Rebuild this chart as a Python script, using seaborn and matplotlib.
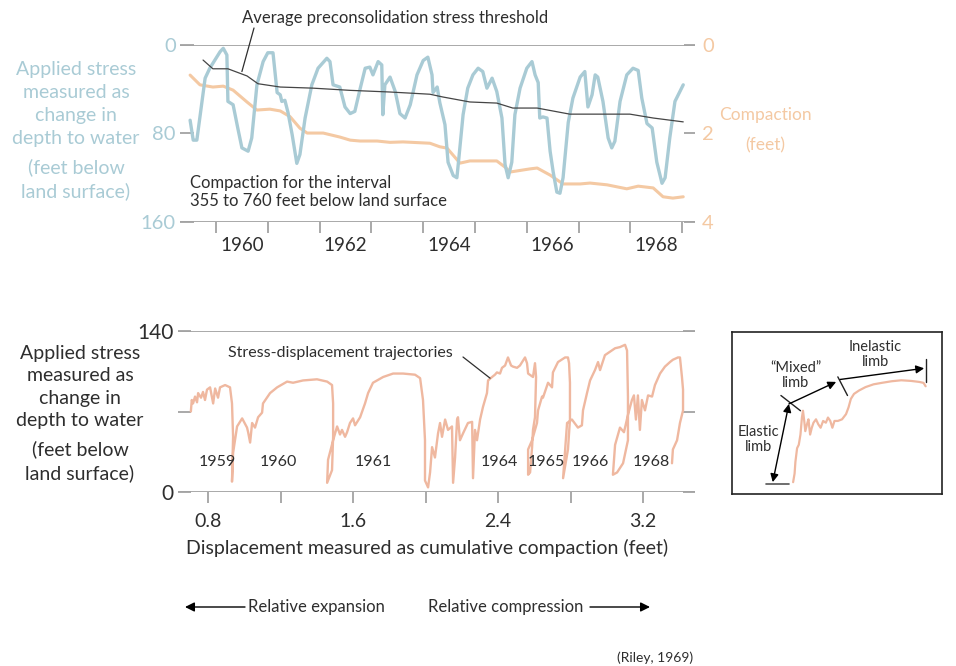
import numpy as np
import seaborn as sns
import matplotlib.pyplot as plt

W, H = 956, 666

# top panel: water level (depth to water, ft) and compaction (ft) against time
level_year = [1959.50, 1959.56, 1959.63, 1959.73, 1959.79, 1959.88, 1960.08, 1960.14, 1960.21, 1960.23,
              1960.33, 1960.42, 1960.50, 1960.62, 1960.69, 1960.79, 1960.91, 1961.00, 1961.10, 1961.18,
              1961.24, 1961.27, 1961.33, 1961.39, 1961.47, 1961.56, 1961.62, 1961.72, 1961.85, 1961.97,
              1962.14, 1962.20, 1962.26, 1962.39, 1962.49, 1962.59, 1962.68, 1962.78, 1962.88, 1962.97,
              1963.03, 1963.13, 1963.20, 1963.22, 1963.26, 1963.36, 1963.46, 1963.55, 1963.65, 1963.75,
              1963.88, 1964.00, 1964.09, 1964.17, 1964.19, 1964.27, 1964.32, 1964.42, 1964.48, 1964.58,
              1964.65, 1964.67, 1964.77, 1964.86, 1964.96, 1965.06, 1965.15, 1965.23, 1965.33, 1965.42,
              1965.52, 1965.58, 1965.64, 1965.71, 1965.77, 1965.87, 1966.00, 1966.10, 1966.16, 1966.22,
              1966.25, 1966.31, 1966.39, 1966.45, 1966.51, 1966.58, 1966.64, 1966.70, 1966.80, 1966.89,
              1967.03, 1967.12, 1967.18, 1967.26, 1967.32, 1967.37, 1967.47, 1967.57, 1967.64, 1967.70,
              1967.80, 1967.93, 1968.05, 1968.15, 1968.22, 1968.32, 1968.42, 1968.51, 1968.61, 1968.67,
              1968.76, 1968.86, 1969.02]
level_depth = [68, 86, 86, 51, 30, 21, 6, 3, 9, 51,
               54, 75, 93, 96, 84, 36, 15, 7, 7, 43,
               45, 51, 50, 61, 81, 107, 99, 66, 36, 21,
               12, 15, 36, 38, 56, 62, 60, 40, 21, 20,
               27, 15, 18, 63, 36, 29, 42, 62, 66, 54,
               27, 14, 11, 27, 43, 38, 52, 72, 106, 118,
               120, 111, 63, 39, 27, 21, 24, 39, 30, 42,
               66, 108, 120, 106, 63, 39, 21, 15, 27, 34,
               66, 65, 66, 96, 115, 133, 134, 120, 70, 48,
               29, 24, 56, 45, 27, 29, 51, 84, 93, 87,
               51, 27, 21, 23, 48, 71, 75, 106, 125, 120,
               84, 51, 36]

compaction_year = [1959.50, 1959.69, 1959.94, 1960.14, 1960.33, 1960.60, 1960.79, 1961.04, 1961.24, 1961.43,
                   1961.62, 1961.76, 1962.07, 1962.39, 1962.59, 1962.78, 1963.11, 1963.36, 1963.61, 1964.13,
                   1964.32, 1964.46, 1964.71, 1964.90, 1965.42, 1965.58, 1965.68, 1966.06, 1966.20, 1966.45,
                   1966.70, 1967.03, 1967.22, 1967.55, 1967.93, 1968.15, 1968.44, 1968.63, 1968.82, 1969.02]
compaction_ft = [0.68, 0.90, 0.95, 0.93, 1.02, 1.29, 1.47, 1.45, 1.49, 1.62,
                 1.88, 1.99, 1.99, 2.08, 2.15, 2.17, 2.17, 2.20, 2.19, 2.22,
                 2.30, 2.33, 2.67, 2.62, 2.62, 2.76, 2.87, 2.80, 2.78, 2.94,
                 3.14, 3.14, 3.12, 3.16, 3.25, 3.19, 3.23, 3.43, 3.46, 3.43]

precon_year = [1959.75, 1959.94, 1960.23, 1960.60, 1960.81, 1961.24, 1961.87, 1962.59, 1963.36, 1964.13,
               1964.38, 1964.90, 1965.42, 1965.73, 1966.20, 1966.83, 1967.99, 1968.44, 1969.02]
precon_depth = [13.6, 21.5, 21.5, 28, 35, 38, 39, 41, 42.5, 44.5,
                47, 51.5, 52.5, 57, 57, 62.5, 62.5, 66, 69.5]

top_year_ticks = [1960, 1961, 1962, 1963, 1964, 1965, 1966, 1967, 1968, 1969]
top_year_labels = ["1960", "1962", "1964", "1966", "1968"]

# bottom panel: stress (ft) against cumulative compaction (ft)
traj_disp = [0.705, 0.710, 0.717, 0.728, 0.739, 0.745, 0.761, 0.772, 0.783, 0.794,
             0.811, 0.828, 0.839, 0.855, 0.866, 0.894, 0.921, 0.932, 0.938, 0.932,
             0.938, 0.960, 0.988, 1.015, 1.021, 1.032, 1.043, 1.059, 1.076, 1.098,
             1.103, 1.142, 1.181, 1.236, 1.269, 1.324, 1.401, 1.457, 1.484, 1.490,
             1.490, 1.484, 1.457, 1.462, 1.490, 1.512, 1.528, 1.539, 1.556, 1.567,
             1.583, 1.600, 1.611, 1.639, 1.666, 1.683, 1.710, 1.766, 1.821, 1.876,
             1.942, 1.970, 1.986, 1.997, 1.997, 2.014, 2.025, 2.036, 2.052, 2.069,
             2.080, 2.091, 2.108, 2.124, 2.146, 2.152, 2.163, 2.174, 2.179, 2.190,
             2.207, 2.234, 2.257, 2.262, 2.273, 2.284, 2.301, 2.317, 2.339, 2.345,
             2.367, 2.383, 2.394, 2.411, 2.422, 2.439, 2.455, 2.472, 2.483, 2.505,
             2.521, 2.549, 2.560, 2.566, 2.593, 2.604, 2.610, 2.604, 2.593, 2.588,
             2.577, 2.566, 2.566, 2.588, 2.615, 2.621, 2.643, 2.648, 2.676, 2.698,
             2.703, 2.731, 2.770, 2.786, 2.792, 2.797, 2.797, 2.786, 2.759, 2.781,
             2.808, 2.841, 2.863, 2.869, 2.891, 2.908, 2.935, 2.952, 2.963, 2.990,
             3.018, 3.046, 3.073, 3.101, 3.112, 3.117, 3.117, 3.090, 3.057, 3.034,
             3.046, 3.073, 3.095, 3.117, 3.139, 3.150, 3.161, 3.172, 3.183, 3.194,
             3.211, 3.228, 3.250, 3.266, 3.294, 3.321, 3.349, 3.365, 3.393, 3.404,
             3.415, 3.421, 3.421, 3.404, 3.388, 3.365, 3.360]
traj_stress = [70, 80, 77, 83, 78, 86, 82, 87, 80, 89,
               91, 77, 90, 82, 91, 93, 91, 77, 48, 9,
               34, 57, 64, 56, 52, 43, 60, 56, 65, 69,
               77, 86, 91, 96, 95, 97, 98, 96, 93, 77,
               48, 19, 8, 28, 45, 57, 50, 54, 48, 52,
               60, 64, 58, 65, 77, 86, 95, 100, 103, 103,
               102, 99, 80, 45, 10, 4, 17, 39, 30, 51,
               60, 48, 63, 54, 57, 8, 30, 63, 65, 45,
               51, 60, 61, 12, 54, 45, 63, 74, 86, 97,
               100, 102, 104, 103, 108, 110, 117, 110, 109, 108,
               110, 117, 112, 103, 100, 112, 100, 65, 54, 39,
               17, 15, 37, 45, 60, 71, 83, 82, 95, 91,
               104, 113, 117, 117, 112, 95, 63, 37, 12, 60,
               63, 56, 58, 71, 86, 97, 106, 113, 106, 119,
               122, 125, 126, 128, 123, 83, 45, 25, 17, 15,
               41, 56, 52, 67, 80, 84, 63, 84, 54, 80,
               71, 84, 83, 93, 103, 109, 113, 115, 117, 117,
               100, 89, 71, 60, 45, 37, 25]

cycle_labels = ["1959", "1960", "1961", "1964", "1965", "1966", "1968"]
cycle_label_disp = [0.85, 1.19, 1.71, 2.41, 2.665, 2.91, 3.245]
cycle_label_stress = 26

# inset sketch (unitless, box = 0..1)
inset_u = [0.291, 0.298, 0.302, 0.310, 0.318, 0.326, 0.333, 0.338, 0.344, 0.349,
           0.357, 0.364, 0.372, 0.380, 0.388, 0.400, 0.411, 0.422, 0.434, 0.447,
           0.457, 0.468, 0.478, 0.488, 0.504, 0.524, 0.543, 0.555, 0.566, 0.581,
           0.605, 0.636, 0.674, 0.713, 0.760, 0.806, 0.853, 0.891, 0.912, 0.922]
inset_v = [0.073, 0.126, 0.199, 0.283, 0.304, 0.367, 0.472, 0.514, 0.451, 0.388,
           0.430, 0.461, 0.367, 0.409, 0.440, 0.461, 0.430, 0.409, 0.451, 0.440,
           0.472, 0.451, 0.409, 0.451, 0.451, 0.461, 0.493, 0.535, 0.587, 0.618,
           0.639, 0.660, 0.677, 0.686, 0.696, 0.702, 0.698, 0.692, 0.686, 0.665]

BLUE = "#a9cbd5"
ORANGE = "#f4c9a3"
SALMON = "#efb8a0"
GRID = "#a3a3a3"
INK = "#2e2e2e"

sns.set_style("white")
plt.rcParams["font.family"] = ["Lato", "DejaVu Sans"]

fig = plt.figure(figsize=(W / 100, H / 100), dpi=100)


def box(l, t, r, b):
    return [l / W, 1 - b / H, (r - l) / W, (b - t) / H]


def fpos(x, y):
    return (x / W, 1 - y / H)


def clean(a):
    for s in a.spines.values():
        s.set_visible(False)
    a.set_xlabel("")
    a.set_ylabel("")


# ---- top panel ----
ax = fig.add_axes(box(180, 45, 695, 222))
axr = ax.twinx()
ax.set_zorder(axr.get_zorder() + 1)
ax.patch.set_visible(False)

sns.lineplot(x=compaction_year, y=compaction_ft, ax=axr, color=ORANGE, lw=2.2,
             sort=False, estimator=None)
sns.lineplot(x=level_year, y=level_depth, ax=ax, color=BLUE, lw=2.4,
             sort=False, estimator=None)
sns.lineplot(x=precon_year, y=precon_depth, ax=ax, color="#454545", lw=0.9,
             sort=False, estimator=None)

ax.set_xlim(1959.305, 1969.247)
ax.set_ylim(160, 0)
axr.set_ylim(4, 0)
clean(ax)
clean(axr)
ax.axhline(0, color=GRID, lw=1.3)
ax.axhline(160, color=GRID, lw=1.3)

ax.set_yticks([0, 80, 160])
ax.tick_params(axis="y", left=True, direction="in", length=10, width=1.3, color=GRID,
               labelcolor=BLUE, labelsize=14.5, pad=3)
axr.set_yticks([0, 2, 4])
axr.tick_params(axis="y", right=True, direction="in", length=8, width=1.3, color=GRID,
                labelcolor=ORANGE, labelsize=14.5, pad=5)

ax.set_xticks(top_year_ticks)
ax.set_xticklabels([])
ax.set_xticks([int(y) + 0.5 for y in top_year_labels], minor=True)
ax.set_xticklabels(top_year_labels, minor=True)
ax.tick_params(axis="x", which="major", bottom=True, direction="out", length=8, width=1.3, color=GRID)
ax.tick_params(axis="x", which="minor", bottom=True, length=0, pad=11, labelsize=13.5, labelcolor=INK)

fig.text(*fpos(76, 104), "Applied stress\nmeasured as\nchange in\ndepth to water", color=BLUE,
         ha="center", va="center", fontsize=14, linespacing=1.42)
fig.text(*fpos(76, 179), "(feet below\nland surface)", color=BLUE,
         ha="center", va="center", fontsize=14, linespacing=1.42)
fig.text(*fpos(765, 130), "Compaction\n(feet)", color=ORANGE,
         ha="center", va="center", fontsize=12.5, linespacing=2.05)

fig.text(*fpos(242, 18), "Average preconsolidation stress threshold", color=INK,
         ha="left", va="center", fontsize=12)
ax.annotate("", xy=(1960.5, 24), xycoords="data", xytext=fpos(254, 28), textcoords="figure fraction",
            arrowprops=dict(arrowstyle="-", color=INK, lw=0.9, shrinkA=0, shrinkB=0),
            annotation_clip=False)
fig.text(*fpos(190, 192), "Compaction for the interval\n355 to 760 feet below land surface", color=INK,
         ha="left", va="center", fontsize=12, linespacing=1.15)

# ---- bottom panel ----
bx = fig.add_axes(box(178, 331, 695, 492))
sns.lineplot(x=traj_disp, y=traj_stress, ax=bx, color=SALMON, lw=1.7, sort=False, estimator=None)
bx.set_xlim(0.634, 3.487)
bx.set_ylim(0, 140)
clean(bx)
bx.axhline(0, color=GRID, lw=1.3)
bx.axhline(140, color=GRID, lw=1.3)

bx.set_yticks([0, 70, 140])
bx.set_yticklabels(["0", "", "140"])
bx.tick_params(axis="y", left=True, right=True, direction="in", length=9, width=1.3, color=GRID,
               labelsize=15, labelcolor=INK, pad=3)
bx.set_xticks(np.arange(0.8, 3.3, 0.4))
bx.set_xticklabels(["0.8", "", "1.6", "", "2.4", "", "3.2"])
bx.tick_params(axis="x", bottom=True, direction="out", length=8, width=1.3, color=GRID,
               labelsize=14, labelcolor=INK, pad=7)

for lab, xv in zip(cycle_labels, cycle_label_disp):
    bx.text(xv, cycle_label_stress, lab, ha="center", va="center", fontsize=11.5, color=INK)

fig.text(*fpos(228, 353), "Stress-displacement trajectories", color=INK,
         ha="left", va="center", fontsize=11.5)
bx.annotate("", xy=(2.356, 99), xycoords="data", xytext=fpos(463, 357), textcoords="figure fraction",
            arrowprops=dict(arrowstyle="-", color=INK, lw=0.9, shrinkA=0, shrinkB=0),
            annotation_clip=False)

fig.text(*fpos(80, 387), "Applied stress\nmeasured as\nchange in\ndepth to water", color=INK,
         ha="center", va="center", fontsize=14, linespacing=1.4)
fig.text(*fpos(80, 461), "(feet below\nland surface)", color=INK,
         ha="center", va="center", fontsize=14, linespacing=1.4)
fig.text(*fpos(427, 548), "Displacement measured as cumulative compaction (feet)", color=INK,
         ha="center", va="center", fontsize=14)

# direction arrows under the x label
arrow_kw = dict(arrowstyle="-|>", color="black", lw=1.0, mutation_scale=14, shrinkA=0, shrinkB=0)
fig.text(*fpos(248, 607), "Relative expansion", color=INK, ha="left", va="center", fontsize=12)
bx.annotate("", xy=fpos(185, 607), xycoords="figure fraction", xytext=fpos(245, 607),
            textcoords="figure fraction", arrowprops=arrow_kw, annotation_clip=False)
fig.text(*fpos(428, 607), "Relative compression", color=INK, ha="left", va="center", fontsize=12)
bx.annotate("", xy=fpos(650, 607), xycoords="figure fraction", xytext=fpos(590, 607),
            textcoords="figure fraction", arrowprops=arrow_kw, annotation_clip=False)

fig.text(*fpos(693, 658), "(Riley, 1969)", color=INK, ha="right", va="center", fontsize=10)

# ---- inset sketch ----
ix = fig.add_axes(box(732, 332, 942, 494))
sns.lineplot(x=inset_u, y=inset_v, ax=ix, color=SALMON, lw=1.6, sort=False, estimator=None)
ix.set_xlim(0, 1)
ix.set_ylim(0, 1)
ix.set_xticks([])
ix.set_yticks([])
ix.set_xlabel("")
ix.set_ylabel("")
for s in ix.spines.values():
    s.set_visible(True)
    s.set_color("#222222")
    s.set_linewidth(1.2)

thin = dict(color="#222222", lw=1.0)
head = dict(color="black", lw=1.0, mutation_scale=12, shrinkA=0, shrinkB=0)
ix.plot([0.163, 0.271], [0.063, 0.063], color="#555555", lw=1.2)
ix.annotate("", xy=(0.194, 0.073), xytext=(0.271, 0.556), arrowprops=dict(arrowstyle="<|-|>", **head))
ix.plot([0.233, 0.326], [0.608, 0.514], **thin)
ix.annotate("", xy=(0.496, 0.692), xytext=(0.271, 0.556), arrowprops=dict(arrowstyle="-|>", **head))
ix.plot([0.504, 0.550], [0.723, 0.608], **thin)
ix.annotate("", xy=(0.915, 0.776), xytext=(0.515, 0.707), arrowprops=dict(arrowstyle="-|>", **head))
ix.plot([0.922, 0.922], [0.692, 0.832], **thin)

ix.text(0.125, 0.335, "Elastic\nlimb", ha="center", va="center", fontsize=10.5, color=INK, linespacing=1.1)
ix.text(0.302, 0.734, "\u201cMixed\u201d\nlimb", ha="center", va="center", fontsize=10.5, color=INK, linespacing=1.1)
ix.text(0.682, 0.860, "Inelastic\nlimb", ha="center", va="center", fontsize=10.5, color=INK, linespacing=1.1)

fig.savefig("out.png", dpi=100)
